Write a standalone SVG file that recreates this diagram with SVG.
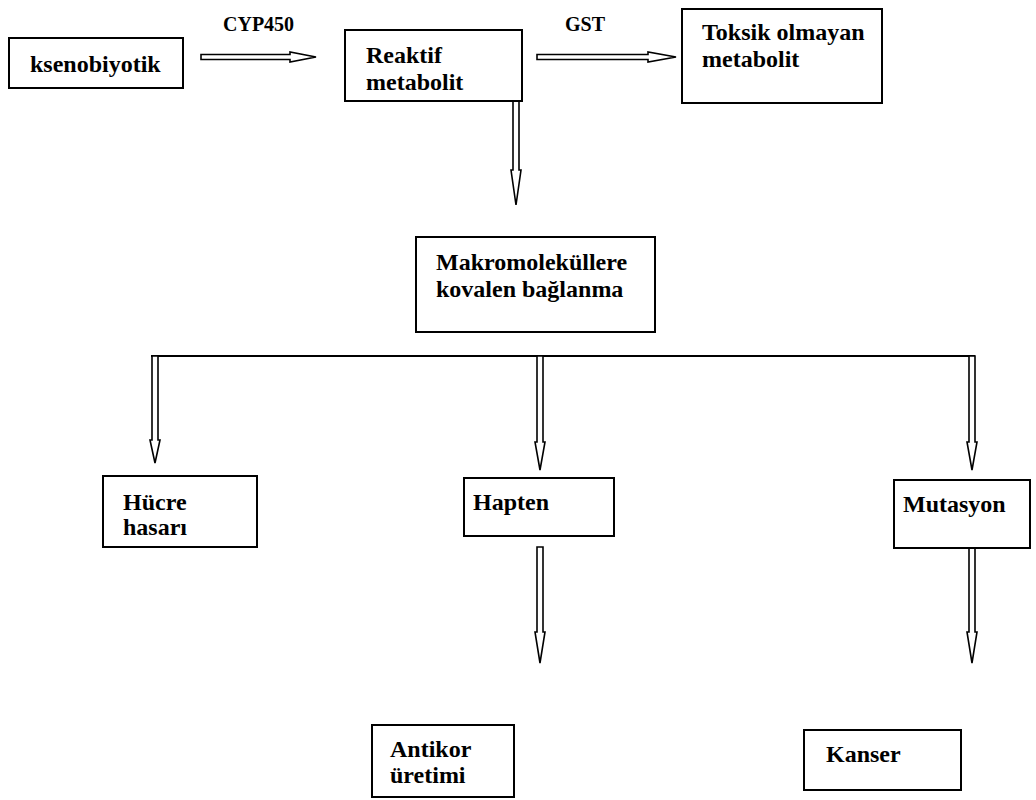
<svg xmlns="http://www.w3.org/2000/svg" width="1036" height="800" viewBox="0 0 1036 800">
<style>
.box{fill:#fff;stroke:#000;stroke-width:2}
.t{font-family:"Liberation Serif","Times New Roman",serif;font-weight:bold;font-size:24px;fill:#000}
.lbl{font-family:"Liberation Serif","Times New Roman",serif;font-weight:bold;font-size:20px;fill:#000}
.ar{fill:#fff;stroke:#000;stroke-width:1.6;stroke-linejoin:miter}
.ln{stroke:#000;stroke-width:2;fill:none}
</style>
<rect width="1036" height="800" fill="#fff"/>
<g id="connectors">
<polygon class="ar" points="201,54.5 290,54.5 290,52 316,57 290,62 290,59.5 201,59.5"/>
<text class="lbl" x="223" y="31">CYP450</text>
<polygon class="ar" points="537,54.5 648,54.5 648,52 676,57 648,62 648,59.5 537,59.5"/>
<text class="lbl" x="565" y="31">GST</text>
<polygon class="ar" points="513,101 519,101 519,170 521,170 516,205 511,170 513,170"/>
<line class="ln" x1="151" y1="356" x2="975" y2="356"/>
<polygon class="ar" points="152,356 158,356 158,440 160,440 155,463 150,440 152,440"/>
<polygon class="ar" points="537,356 543,356 543,442 545,442 540,470 535,442 537,442"/>
<polygon class="ar" points="969,356 975,356 975,442 977,442 972,470 967,442 969,442"/>
<polygon class="ar" points="537,547 543,547 543,632 545,632 540,663 535,632 537,632"/>
<polygon class="ar" points="969,548 975,548 975,632 977,632 972,663 967,632 969,632"/>
</g>
<g id="ksenobiyotik"><rect class="box" x="9" y="38" width="174" height="50"/><text class="t" x="30" y="72">ksenobiyotik</text></g>
<g id="reaktif"><rect class="box" x="345" y="30" width="177" height="71"/><text class="t" x="366" y="63">Reaktif</text><text class="t" x="366" y="90">metabolit</text></g>
<g id="toksik"><rect class="box" x="682" y="9" width="200" height="94"/><text class="t" x="702" y="40">Toksik olmayan</text><text class="t" x="702" y="67">metabolit</text></g>
<g id="makro"><rect class="box" x="416" y="237" width="239" height="95"/><text class="t" x="436" y="270">Makromoleküllere</text><text class="t" x="436" y="297">kovalen bağlanma</text></g>
<g id="hucre"><rect class="box" x="103" y="476" width="154" height="71"/><text class="t" x="123" y="510">Hücre</text><text class="t" x="123" y="535">hasarı</text></g>
<g id="hapten"><rect class="box" x="464" y="478" width="150" height="58"/><text class="t" x="473" y="510">Hapten</text></g>
<g id="mutasyon"><rect class="box" x="894" y="480" width="136" height="68"/><text class="t" x="903" y="512">Mutasyon</text></g>
<g id="antikor"><rect class="box" x="372" y="725" width="142" height="72"/><text class="t" x="390" y="757">Antikor</text><text class="t" x="390" y="783">üretimi</text></g>
<g id="kanser"><rect class="box" x="804" y="730" width="157" height="60"/><text class="t" x="826" y="762">Kanser</text></g>
</svg>
